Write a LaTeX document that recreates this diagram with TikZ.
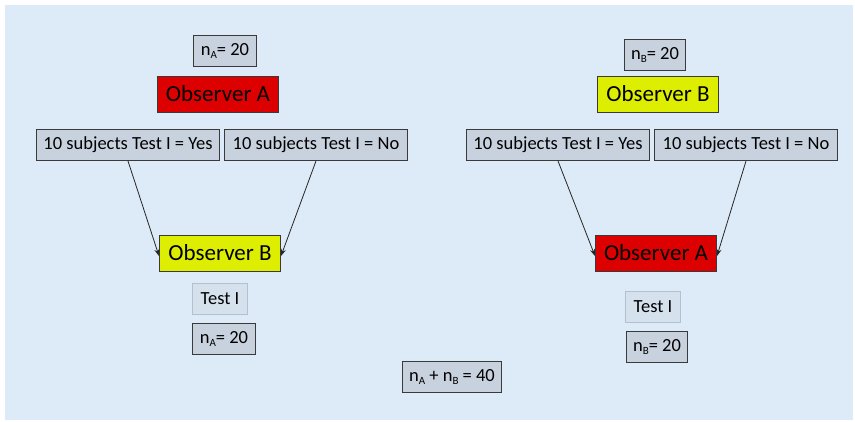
\documentclass[tikz,border=0pt]{standalone}
\usepackage{fontspec}
\setmainfont{Carlito}
\usetikzlibrary{arrows.meta}
\definecolor{panel}{HTML}{DDEAF7}
\definecolor{boxfill}{HTML}{C8D2DE}
\definecolor{lightfill}{HTML}{D6E1EE}
\definecolor{lightline}{HTML}{B4C0CE}
\definecolor{obsred}{HTML}{DD0000}
\definecolor{obsyellow}{HTML}{DDEE00}
\definecolor{edge}{HTML}{3A3A3A}
% lowered, smaller subscript letter
\newcommand{\lowsub}[1]{\raisebox{-3.5pt}{\fontsize{11}{11}\selectfont #1}}
\tikzset{
  infobox/.style={draw=edge, line width=1pt, fill=boxfill, font=\fontsize{18.5}{22}\selectfont,
    minimum height=31pt, inner xsep=7pt, inner ysep=0pt},
  testbox/.style={draw=lightline, line width=1pt, fill=lightfill, font=\fontsize{18.5}{22}\selectfont,
    minimum height=31pt, inner xsep=8pt, inner ysep=0pt},
  obsbox/.style={draw=edge, line width=1pt, font=\fontsize{23}{27}\selectfont,
    minimum height=36pt, minimum width=121pt, inner ysep=0pt},
  subjbox/.style={infobox, minimum width=183pt, inner xsep=2pt},
  flow/.style={draw=black!85, line width=0.8pt, -{Stealth[length=7pt,width=5pt]}}
}
\begin{document}
\begin{tikzpicture}[x=1pt,y=-1pt]
  % page and panel
  \useasboundingbox (0,0) rectangle (855,421);
  \fill[white] (0,0) rectangle (855,421);
  \fill[panel] (5,5) rectangle (853,420);

  % left branch: Observer A first, then Observer B
  \node[infobox] (naTop) at (225,51) {n\lowsub{A}= 20};
  \node[obsbox, fill=obsred] (obsAtop) at (218,94) {Observer A};
  \node[subjbox] (yesL) at (128,145) {10 subjects Test I = Yes};
  \node[subjbox] (noL) at (316,145) {10 subjects Test I = No};
  \node[obsbox, fill=obsyellow] (obsBbot) at (220,253) {Observer B};
  \node[testbox] (testL) at (220,299) {Test I};
  \node[infobox] (naBot) at (224,339) {n\lowsub{A}= 20};

  % right branch: Observer B first, then Observer A
  \node[infobox] (nbTop) at (655,55) {n\lowsub{B}= 20};
  \node[obsbox, fill=obsyellow] (obsBtop) at (658,94) {Observer B};
  \node[subjbox] (yesR) at (558,145) {10 subjects Test I = Yes};
  \node[subjbox] (noR) at (746,145) {10 subjects Test I = No};
  \node[obsbox, fill=obsred] (obsAbot) at (656,253) {Observer A};
  \node[testbox] (testR) at (653,307) {Test I};
  \node[infobox] (nbBot) at (657,347) {n\lowsub{B}= 20};

  % total
  \node[infobox] (total) at (452,377) {n\lowsub{A} + n\lowsub{B} = 40};

  % connectors
  \draw[flow] (yesL.south) -- ([yshift=-3pt]obsBbot.west);
  \draw[flow] (noL.south) -- ([yshift=-3pt]obsBbot.east);
  \draw[flow] (yesR.south) -- ([yshift=-3pt]obsAbot.west);
  \draw[flow] (noR.south) -- ([yshift=-3pt]obsAbot.east);
\end{tikzpicture}
\end{document}
